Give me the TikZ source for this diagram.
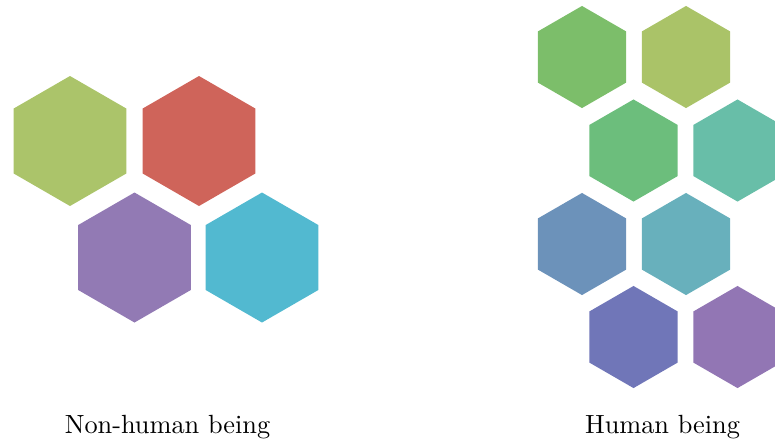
\documentclass[tikz,border=0pt]{standalone}
\usepackage{xcolor}
\usetikzlibrary{shapes.geometric}

\definecolor{hexolive}{RGB}{171,196,106}
\definecolor{hexred}{RGB}{207,100,90}
\definecolor{hexpurple}{RGB}{146,122,180}
\definecolor{hexcyan}{RGB}{82,185,208}
\definecolor{hexgreen}{RGB}{124,190,106}
\definecolor{hexlime}{RGB}{170,195,104}
\definecolor{hexmint}{RGB}{108,190,124}
\definecolor{hexteal}{RGB}{104,190,168}
\definecolor{hexsteel}{RGB}{108,146,186}
\definecolor{hexaqua}{RGB}{104,176,188}
\definecolor{hexindigo}{RGB}{112,118,184}
\definecolor{hexviolet}{RGB}{146,118,180}

\begin{document}
\begin{tikzpicture}[x=0.38pt,y=-0.38pt,
	bighex/.style={regular polygon,regular polygon sides=6,shape border rotate=30,
		minimum size=49.4pt,inner sep=0pt,outer sep=0pt,fill=#1},
	smallhex/.style={regular polygon,regular polygon sides=6,shape border rotate=30,
		minimum size=38.8pt,inner sep=0pt,outer sep=0pt,fill=#1}]
	% frame
	\useasboundingbox (0,0) rectangle (775,441);
	\clip (0,0) rectangle (775,441);
	
	% non-human cells
	\node[bighex=hexolive] (nA) at (70,141) {};
	\node[bighex=hexred] (nB) at (199,141) {};
	\node[bighex=hexpurple] (nC) at (134.5,257.5) {};
	\node[bighex=hexcyan] (nD) at (262,257.5) {};
	
	% human cells
	\node[smallhex=hexgreen] (hA) at (582,57) {};
	\node[smallhex=hexlime] (hB) at (686,57) {};
	\node[smallhex=hexmint] (hC) at (633.5,150.5) {};
	\node[smallhex=hexteal] (hD) at (737.5,150.5) {};
	\node[smallhex=hexsteel] (hE) at (582,244) {};
	\node[smallhex=hexaqua] (hF) at (686,244) {};
	\node[smallhex=hexindigo] (hG) at (633.5,337) {};
	\node[smallhex=hexviolet] (hH) at (737.5,337) {};
	
	% labels
	\node[anchor=base] (nonhuman) at (167.5,433) {Non-human being};
	\node[anchor=base] (human) at (662.5,433) {Human being};
\end{tikzpicture}
\end{document}
